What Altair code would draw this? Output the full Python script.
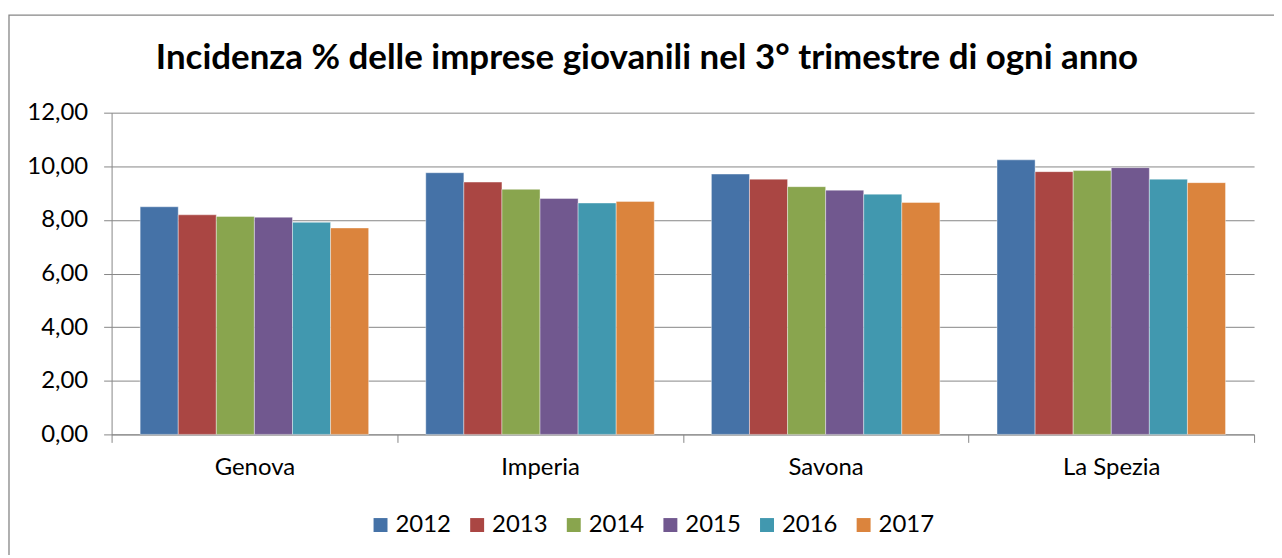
import altair as alt
import pandas as pd

provinces = ["Genova", "Imperia", "Savona", "La Spezia"]
years = ["2012", "2013", "2014", "2015", "2016", "2017"]
v2012 = [8.49, 9.76, 9.71, 10.24]
v2013 = [8.19, 9.41, 9.52, 9.80]
v2014 = [8.13, 9.14, 9.24, 9.84]
v2015 = [8.10, 8.80, 9.11, 9.95]
v2016 = [7.91, 8.63, 8.96, 9.52]
v2017 = [7.70, 8.69, 8.65, 9.39]
series = [v2012, v2013, v2014, v2015, v2016, v2017]
colors = ["#4572A7", "#AA4643", "#89A54E", "#71588F", "#4198AF", "#DB843D"]
title_text = "Incidenza % delle imprese giovanili nel 3° trimestre di ogni anno"

rows = []
for yr, vals in zip(years, series):
    for p, v in zip(provinces, vals):
        rows.append({"Provincia": p, "Anno": yr, "Valore": v})
df = pd.DataFrame(rows)

FONT = "Lato"
GRAY = "#868686"
FS = 24

bars = alt.Chart(df).mark_bar(stroke="white", strokeWidth=0.8, strokeOpacity=0.5).encode(
    x=alt.X("Provincia:N", sort=provinces,
            scale=alt.Scale(paddingInner=0, paddingOuter=0),
            axis=alt.Axis(title=None, labelAngle=0, tickBand="extent", grid=False,
                          tickSize=8, labelPadding=13, labelFontSize=FS, labelFont=FONT,
                          labelColor="black", domainColor=GRAY, tickColor=GRAY,
                          labelFontWeight="normal")),
    xOffset=alt.XOffset("Anno:N", sort=years,
                        scale=alt.Scale(paddingInner=0, paddingOuter=0.75)),
    y=alt.Y("Valore:Q", scale=alt.Scale(domain=[0, 12], nice=False),
            axis=alt.Axis(title=None, values=[0, 2, 4, 6, 8, 10, 12],
                          labelExpr="replace(format(datum.value, '.2f'), '.', ',')",
                          tickSize=8, labelPadding=16, labelFontSize=FS, labelFont=FONT,
                          labelColor="black", domainColor=GRAY, tickColor=GRAY,
                          gridColor=GRAY, gridOpacity=1)),
    color=alt.Color("Anno:N", sort=years,
                    scale=alt.Scale(domain=years, range=colors),
                    legend=alt.Legend(title=None, orient="none", legendX=258, legendY=402,
                                      direction="horizontal", symbolType="square",
                                      symbolSize=196, symbolStrokeWidth=0,
                                      labelFontSize=FS, labelFont=FONT, labelColor="black",
                                      labelOffset=3, columnPadding=14)),
)

frame = alt.Chart(alt.Data(values=[{"a": 1}])).mark_rect(
    fill="transparent", stroke=GRAY, strokeWidth=1.3
).encode(x=alt.value(-103), x2=alt.value(1300), y=alt.value(-98), y2=alt.value(600))

chart = alt.layer(frame, bars).properties(
    width=1147, height=323,
    padding={"left": 104, "top": 104, "right": 20, "bottom": 120},
    autosize=alt.AutoSizeParams(type="none"),
    title=alt.TitleParams(title_text, font=FONT, fontSize=35, fontWeight="bold",
                          color="black", anchor="middle", dx=-36, dy=119, offset=29,
                          baseline="alphabetic"),
).configure_view(stroke=None)

chart.save("out.html", embed_options={"renderer": "svg", "actions": False})
